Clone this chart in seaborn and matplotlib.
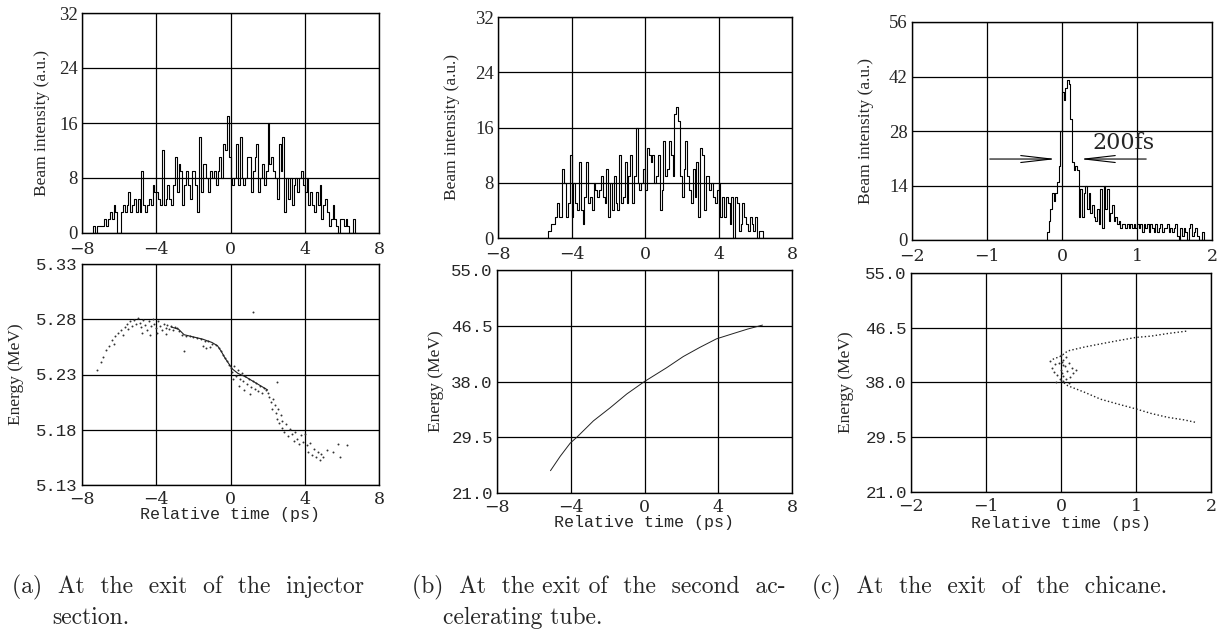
import numpy as np
import pandas as pd
import matplotlib.pyplot as plt
import seaborn as sns

# ---- beam intensity histograms (counts per bin) ----
a_t0, a_dt = -7.4, 0.1
a_counts = [1, 0, 1, 1,
            1, 1, 2, 1, 2, 3, 2, 4, 3, 0,
            0, 3, 4, 3, 4, 6, 3, 4, 5, 3,
            5, 3, 9, 4, 3, 4, 5, 4, 7, 6,
            6, 5, 4, 12, 4, 5, 7, 5, 4, 7,
            11, 6, 10, 9, 4, 7, 9, 7, 5, 9,
            9, 7, 3, 14, 6, 10, 10, 8, 6, 9,
            8, 9, 7, 9, 11, 8, 13, 12, 17, 11,
            8, 7, 8, 13, 7, 14, 8, 7, 8, 11,
            11, 6, 9, 11, 13, 6, 8, 10, 7, 9,
            16, 10, 11, 9, 8, 5, 13, 9, 14, 3,
            8, 5, 8, 4, 7, 8, 6, 8, 9, 7,
            6, 8, 4, 6, 4, 3, 6, 4, 7, 2,
            4, 5, 3, 1, 2, 4, 2, 1, 0, 2,
            2, 1, 2, 1, 0, 0, 2, 0]

b_t0, b_dt = -5.3, 0.1
b_counts = [1, 1, 2,
            2, 3, 5, 3, 3, 10, 8, 3, 5, 12,
            3, 8, 5, 4, 11, 4, 2, 6, 11, 5,
            6, 4, 8, 7, 6, 7, 9, 6, 5, 10,
            3, 8, 4, 9, 5, 4, 12, 5, 6, 11,
            5, 9, 12, 5, 9, 16, 8, 7, 8, 10,
            7, 13, 12, 11, 12, 8, 9, 12, 4, 7,
            14, 9, 10, 14, 12, 9, 18, 19, 17, 9,
            6, 10, 14, 9, 7, 5, 10, 6, 11, 3,
            13, 12, 4, 9, 9, 7, 8, 6, 5, 7,
            8, 3, 6, 3, 6, 5, 2, 6, 0, 6,
            5, 1, 2, 5, 3, 2, 1, 3, 2, 1,
            3, 0, 1, 1]

c_t0, c_dt = -0.2, 0.0222
c_counts = [2, 5, 8, 12, 10, 12, 15, 19, 28, 38,
            36, 39, 41, 40, 31, 20, 18, 19, 18, 6,
            13, 6, 12, 14, 8, 12, 7, 9, 6, 5,
            8, 4, 13, 3, 14, 8, 13, 5, 7, 9,
            5, 6, 4, 5, 3, 4, 4, 3, 4, 3,
            4, 3, 4, 3, 4, 3, 4, 2, 4, 3,
            4, 2, 4, 3, 2, 4, 2, 3, 4, 2,
            3, 3, 4, 2, 3, 2, 3, 4, 1, 0,
            3, 1, 3, 2, 0, 3, 4, 1, 2, 3,
            1, 0, 0, 2]

# ---- energy vs time ----
a_pts_t = [-7.2, -7.0, -6.85, -6.7, -6.55, -6.4, -6.3, -6.2, -6.05, -5.9, -5.8, -5.7, -5.6, -5.5,
           -5.4, -5.3, -5.2, -5.1, -5.0,
           -4.9, -4.8, -4.7, -4.6, -4.5, -4.4, -4.3, -4.2, -4.1, -4.0, -3.9, -3.8, -3.7, -3.6,
           -3.5, -3.4, -3.3, -3.2, -3.1, -3.0, -2.9, -2.8, -4.75, -4.35, -3.95, -3.45,
           -2.6, -2.4, -2.2, -2.0, -1.8, -1.6, -1.4, -1.2, -1.0, -1.5, -1.3, -1.1, -0.8, -0.6,
           -0.5, -0.4, -0.3, -0.2, -0.1,
           0.0, 0.1, 0.2, 0.3, 0.4, 0.5, 0.6, 0.7, 0.8, 0.9, 1.0, 1.1, 1.2, 1.3, 1.4, 1.5, 1.6,
           1.7, 1.8, 1.9, 2.0, 0.15, 0.45, 0.75, 1.05,
           2.1, 2.2, 2.25, 2.3, 2.4, 2.45, 2.5, 2.55, 2.6, 2.7, 2.75, 2.8, 2.9, 3.0, 3.1, 3.2,
           3.3, 3.4, 3.5, 3.6, 3.7, 3.8, 3.9, 4.0,
           4.1, 4.2, 4.3, 4.4, 4.5, 4.6, 4.7, 4.8, 4.9, 5.0, 5.2, 5.5, 5.8, 6.3, 5.9,
           2.5, 1.2, -2.5]
a_pts_e = [5.234, 5.241, 5.246, 5.252, 5.256, 5.261, 5.258, 5.265, 5.268, 5.270, 5.266, 5.273, 5.276, 5.271,
           5.278, 5.274, 5.279, 5.276, 5.281,
           5.277, 5.273, 5.279, 5.275, 5.270, 5.278, 5.274, 5.280, 5.276, 5.272, 5.278, 5.274, 5.270, 5.276,
           5.272, 5.275, 5.271, 5.274, 5.270, 5.273, 5.272, 5.269, 5.268, 5.266, 5.268, 5.267,
           5.266, 5.265, 5.265, 5.264, 5.263, 5.262, 5.260, 5.260, 5.258, 5.256, 5.254, 5.255, 5.257, 5.254,
           5.251, 5.248, 5.245, 5.242, 5.239,
           5.236, 5.232, 5.238, 5.229, 5.234, 5.226, 5.231, 5.224, 5.229, 5.221, 5.226, 5.219, 5.224, 5.217,
           5.222, 5.215, 5.220, 5.213, 5.218, 5.216, 5.213, 5.226, 5.220, 5.216, 5.212,
           5.210, 5.205, 5.199, 5.208, 5.202, 5.195, 5.190, 5.199, 5.186, 5.193, 5.182, 5.188, 5.178, 5.185,
           5.174, 5.181, 5.176, 5.170, 5.178, 5.172, 5.167, 5.175, 5.169, 5.176,
           5.166, 5.160, 5.168, 5.157, 5.163, 5.155, 5.160, 5.153, 5.158, 5.155, 5.162, 5.160, 5.167, 5.166, 5.155,
           5.223, 5.287, 5.251]
a_ridge_t = [-3.2, -2.8, -2.5, -2.0, -1.5, -1.0, -0.7, -0.5, -0.3, -0.1, 0.1, 0.4, 0.8, 1.2, 1.6, 2.0]
a_ridge_e = [5.273, 5.271, 5.266, 5.264, 5.262, 5.259, 5.256, 5.251, 5.245, 5.240, 5.235, 5.231, 5.228, 5.224, 5.220, 5.216]

b_line_t = [-5.1, -4.57, -4.03, -3.67, -2.77, -1.86, -0.96, 0.0, 1.2, 2.1, 3.0, 3.9, 4.8, 5.6, 6.4]
b_line_e = [24.4, 26.6, 28.6, 29.5, 32.0, 34.0, 36.1, 38.0, 40.1, 41.8, 43.2, 44.5, 45.3, 46.0, 46.6]

c_up_t = [-0.11, 0.0, 0.09, 0.31, 0.53, 0.76, 1.0, 1.2, 1.42, 1.69]
c_up_e = [41.6, 42.1, 42.9, 43.5, 44.0, 44.5, 45.0, 45.2, 45.6, 46.0]
c_lo_t = [0.0, 0.09, 0.31, 0.53, 0.76, 1.0, 1.2, 1.42, 1.64, 1.8]
c_lo_e = [38.3, 37.5, 36.5, 35.4, 34.65, 33.9, 33.2, 32.6, 32.2, 31.8]
c_cloud_t = [-0.15, -0.12, -0.1, -0.08, -0.05, -0.03, 0.0, 0.02, 0.03, 0.05, 0.06, 0.08, 0.1, 0.12,
             0.14, 0.16, 0.03, 0.07, -0.02, 0.11, 0.0, 0.2, -0.07, 0.01, 0.01, 0.02]
c_cloud_e = [41.4, 40.3, 39.6, 40.8, 39.2, 41.0, 40.0, 39.0, 41.5, 40.5, 38.6, 39.8, 41.0, 38.9,
             40.2, 39.4, 38.3, 42.0, 38.6, 37.9, 42.2, 39.9, 38.1, 41.2, 39.5, 40.7]

x_ticks_wide = [-8, -4, 0, 4, 8]
x_ticks_narrow = [-2, -1, 0, 1, 2]
a_yticks = [0, 8, 16, 24, 32]
c_yticks = [0, 14, 28, 42, 56]
a_eticks = [5.13, 5.18, 5.23, 5.28, 5.33]
bc_eticks = [21.0, 29.5, 38.0, 46.5, 55.0]

# captions are typeset with wide (justified) word spacing in the scan
captions = [("(a)  At  the  exit  of  the  injector", "section."),
            ("(b)  At  the exit of  the  second  ac-", "celerating tube."),
            ("(c)  At  the  exit  of  the  chicane.", "")]

sns.set_style("white")
plt.rcParams['font.family'] = ['DejaVu Serif']

W, H = 1225, 639
fig = plt.figure(figsize=(W / 100, H / 100), dpi=100)


def box(left, top, right, bottom):
    return fig.add_axes([left / W, 1 - bottom / H, (right - left) / W, (bottom - top) / H])


def style(ax, xt, yt, ylabels, ylabel, lab_x, mono=False, xpad=4):
    ax.set_xticks(xt)
    ax.set_xticklabels([str(v).replace('-', '\u2212') for v in xt], fontsize=12.5, family='DejaVu Serif')
    ax.set_yticks(yt)
    if mono:
        ax.set_yticklabels(ylabels, fontsize=12.5, family='Liberation Mono')
    else:
        ax.set_yticklabels(ylabels, fontsize=13.5, family='Liberation Serif')
    ax.set_xlim(xt[0], xt[-1])
    ax.set_ylim(yt[0], yt[-1])
    ax.grid(True, color='black', lw=0.9)
    for s in ax.spines.values():
        s.set_color('black')
        s.set_linewidth(1.0)
    ax.tick_params(axis='x', length=0, pad=xpad)
    ax.tick_params(axis='y', length=0, pad=3)
    ax.set_ylabel(ylabel, family='Liberation Serif', fontsize=12.5)
    ax.yaxis.set_label_coords(lab_x, 0.5)


def hist(ax, t0, dt, counts):
    # step outline of the binned counts, closed down to zero at both ends
    edges = t0 + dt * np.arange(len(counts) + 1)
    df = pd.DataFrame({'t': np.concatenate([[edges[0]], edges]),
                       'n': [0] + list(counts) + [0]})
    sns.lineplot(data=df, x='t', y='n', drawstyle='steps-post', estimator=None, sort=False,
                 color='black', lw=0.8, ax=ax)
    ax.set_xlabel('')


# panel (a)
ax = box(82, 13, 379, 233)
hist(ax, a_t0, a_dt, a_counts)
style(ax, x_ticks_wide, a_yticks, [str(v) for v in a_yticks], 'Beam intensity (a.u.)', -0.108, xpad=6)

ax = box(82, 264, 379, 485)
sns.lineplot(x=a_ridge_t, y=a_ridge_e, color='#222222', lw=0.8, sort=False, ax=ax)
sns.scatterplot(x=a_pts_t, y=a_pts_e, s=2, color='#333333', linewidth=0, ax=ax)
style(ax, x_ticks_wide, a_eticks, ['%.2f' % v for v in a_eticks], 'Energy (MeV)', -0.195, mono=True)
ax.set_xlabel('Relative time (ps)', family='Liberation Mono', fontsize=12)
ax.xaxis.set_label_coords(0.5, -0.1)

# panel (b)
ax = box(498, 17, 792, 238)
hist(ax, b_t0, b_dt, b_counts)
style(ax, x_ticks_wide, a_yticks, [str(v) for v in a_yticks], 'Beam intensity (a.u.)', -0.129, xpad=6)

ax = box(497, 270, 792, 493)
sns.lineplot(x=b_line_t, y=b_line_e, color='#222222', lw=0.7, sort=False, ax=ax)
style(ax, x_ticks_wide, bc_eticks, ['%.1f' % v for v in bc_eticks], 'Energy (MeV)', -0.18, mono=True)
ax.set_xlabel('Relative time (ps)', family='Liberation Mono', fontsize=12)
ax.xaxis.set_label_coords(0.5, -0.1)

# panel (c)
ax = box(912, 22, 1212, 240)
hist(ax, c_t0, c_dt, c_counts)
style(ax, x_ticks_narrow, c_yticks, [str(v) for v in c_yticks], 'Beam intensity (a.u.)', -0.127, xpad=6)
ax.annotate('', xy=(-0.04, 20.8), xytext=(-1.0, 20.8),
            arrowprops=dict(arrowstyle='->,head_length=2.2,head_width=0.25', color='black', lw=0.8))
ax.annotate('', xy=(0.2, 20.8), xytext=(1.16, 20.8),
            arrowprops=dict(arrowstyle='->,head_length=2.2,head_width=0.25', color='black', lw=0.8))
ax.text(0.4, 24.8, '200fs', fontsize=16, family='DejaVu Serif', va='center', ha='left')

ax = box(911, 273, 1211, 492)
sns.lineplot(x=c_up_t, y=c_up_e, color='#222222', lw=1.0, ls=':', sort=False, ax=ax)
sns.lineplot(x=c_lo_t, y=c_lo_e, color='#222222', lw=1.0, ls=':', sort=False, ax=ax)
sns.scatterplot(x=c_cloud_t, y=c_cloud_e, s=2, color='#333333', linewidth=0, ax=ax)
style(ax, x_ticks_narrow, bc_eticks, ['%.1f' % v for v in bc_eticks], 'Energy (MeV)', -0.19, mono=True)
ax.set_xlabel('Relative time (ps)', family='Liberation Mono', fontsize=12)
ax.xaxis.set_label_coords(0.5, -0.11)

# captions
cap_x = [(12, 52), (412, 443), (812, 840)]
for (l1, l2), (x1, x2) in zip(captions, cap_x):
    fig.text(x1 / W, 1 - 593 / H, l1, family='cmr10', fontsize=17)
    if l2:
        fig.text(x2 / W, 1 - 624 / H, l2, family='cmr10', fontsize=17)

fig.savefig('out.png', dpi=100)
